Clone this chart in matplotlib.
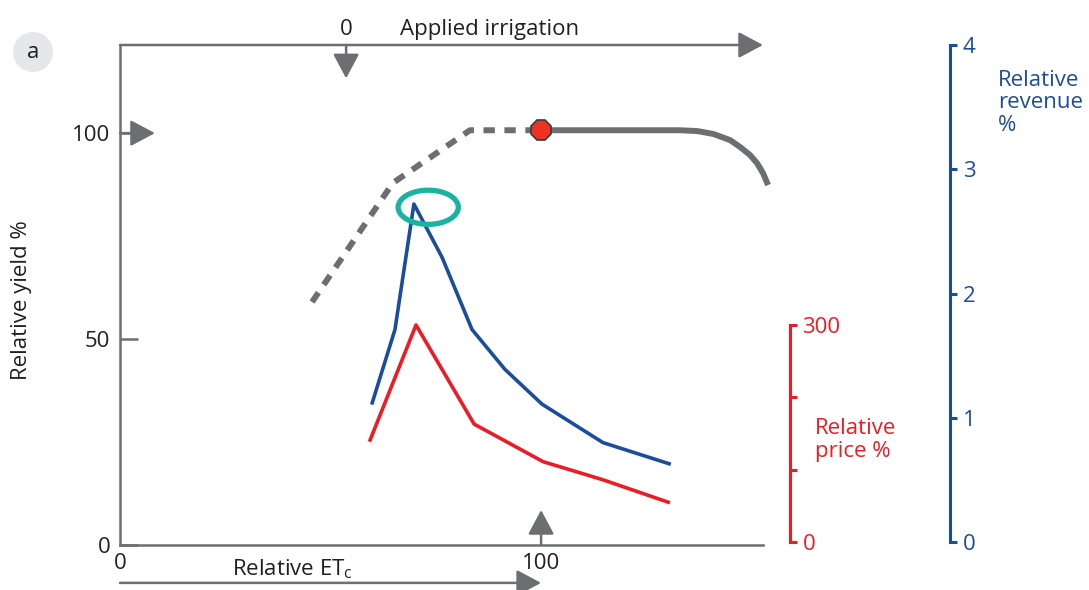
import matplotlib.pyplot as plt
from matplotlib.patches import Ellipse
from matplotlib.patches import ArrowStyle

plt.rcParams['font.family'] = ['Open Sans', 'DejaVu Sans']
plt.rcParams['mathtext.fontset'] = 'custom'
plt.rcParams['mathtext.rm'] = 'Open Sans'

## relative yield (%) vs relative ETc (%), dashed = deficit part
etc_yield_dash = [45.6, 64.8, 83.1, 100]
yield_dash = [59.0, 87.9, 100.7, 100.7]
etc_yield_solid = [100, 133, 137.1, 140.9, 144.9, 147.3, 149.6, 151.3, 152.7, 153.9]
yield_solid = [100.7, 100.7, 100.5, 99.8, 98.3, 96.6, 94.7, 92.7, 90.3, 87.4]

## relative revenue (right blue scale)
etc_revenue = [59.9, 65.3, 69.8, 76.5, 83.6, 91.4, 100.2, 114.7, 130.4]
revenue = [1.12, 1.71, 2.72, 2.29, 1.71, 1.39, 1.11, 0.80, 0.63]

## relative price (red scale)
etc_price = [59.4, 70.3, 84.1, 100.5, 114.7, 130.2]
price = [141, 300, 163, 111, 86, 55]

## optimum point and highlighted revenue peak
opt_etc, opt_yield = 100, 100.7
peak_etc, peak_yield = 73.2, 82.0

gray = "#6d6e71"
blue = "#1c4d9c"
red = "#ed1c24"
teal = "#1ab39f"
txt = "#231f20"
fs = 16

fig = plt.figure(figsize=(10.89, 5.90), dpi=100)
ax = fig.add_axes([120/1089, 45/590, 643/1089, 500/590])
ax.set_xlim(0, 152.7)
ax.set_ylim(0, 121.4)

for s in ["top", "right"]:
    ax.spines[s].set_visible(False)
for s in ["left", "bottom"]:
    ax.spines[s].set_color(gray)
    ax.spines[s].set_linewidth(1.8)

ax.set_yticks([0, 50, 100])
ax.set_yticklabels(["0", "50", "100"])
ax.tick_params(axis="y", direction="in", length=13, width=1.8, color=gray,
               labelsize=fs, labelcolor=txt, pad=7)
ax.set_xticks([0, 100])
ax.set_xticklabels(["0", "100"])
ax.tick_params(axis="x", length=0, labelsize=fs, labelcolor=txt, pad=6)

# yield curve
ax.plot(etc_yield_dash, yield_dash, color=gray, lw=4.3, dashes=(1.9, 1.6),
        solid_capstyle="butt", dash_capstyle="butt")
ax.plot(etc_yield_solid, yield_solid, color=gray, lw=4.3, clip_on=False,
        solid_capstyle="butt", solid_joinstyle="round")
ax.plot([opt_etc], [opt_yield], marker="8", ms=15, mfc="#ee3124", mec="#3a3a3a",
        mew=1.2, zorder=5)

# arrows
arrow = ArrowStyle("-|>", head_length=0.75, head_width=0.4)
def arr(x0, y0, x1, y1):
    ax.annotate("", xy=(x1, y1), xytext=(x0, y0), annotation_clip=False,
                arrowprops=dict(arrowstyle=arrow, color=gray, lw=1.8,
                                mutation_scale=20, shrinkA=0, shrinkB=0))

arr(0, 121.4, 152.7, 121.4)
arr(53.7, 121.4, 53.7, 113.3)
arr(0, 100, 8.3, 100)
arr(100, 0, 100, 8.5)
arr(0, -9.2, 100, -9.2)

ax.text(53.7, 123.8, "0", ha="center", va="baseline", fontsize=fs, color=txt)
ax.text(66.5, 123.8, "Applied irrigation", ha="left", va="baseline",
        fontsize=fs, color=txt)
ax.text(26.6, -7.3, "Relative ET$_\\mathrm{c}$", ha="left", va="baseline",
        fontsize=fs, color=txt)

# price axis
axp = ax.twinx()
axp.set_ylim(-4.15, 687.1)
for s in ["top", "left", "bottom"]:
    axp.spines[s].set_visible(False)
axp.spines["right"].set_position(("axes", 1.042))
axp.spines["right"].set_bounds(0, 300)
axp.spines["right"].set_color(red)
axp.spines["right"].set_linewidth(2.2)
axp.set_yticks([0, 100, 200, 300])
axp.set_yticklabels(["0", "", "", "300"])
axp.tick_params(axis="y", direction="out", length=5, width=2.2, color=red,
                labelsize=fs, labelcolor=red, pad=4)
axp.plot(etc_price, price, color=red, lw=2.6)

# revenue axis
axr = ax.twinx()
axr.set_ylim(-0.024, 3.976)
for s in ["top", "left", "bottom"]:
    axr.spines[s].set_visible(False)
axr.spines["right"].set_position(("axes", 1.291))
axr.spines["right"].set_bounds(0, 4)
axr.spines["right"].set_color(blue)
axr.spines["right"].set_linewidth(2.2)
axr.set_yticks([0, 1, 2, 3, 4])
axr.tick_params(axis="y", direction="out", length=5, width=2.2, color=blue,
                labelsize=fs, labelcolor=blue, pad=4)
axr.plot(etc_revenue, revenue, color=blue, lw=2.6)

axr.add_patch(Ellipse((peak_etc, peak_yield), 14.3, 8.3, transform=ax.transData,
                      fill=False, ec=teal, lw=3.8, zorder=6))

fig.text(22/1089, 1 - 300/590, "Relative yield %", rotation=90, ha="center",
         va="center", fontsize=fs, color=txt)
fig.text(815/1089, 1 - 440/590, "Relative\nprice %", ha="left", va="center",
         fontsize=fs, color=red, linespacing=1.15)
fig.text(998/1089, 1 - 103/590, "Relative\nrevenue\n%", ha="left", va="center",
         fontsize=fs, color=blue, linespacing=1.1)

fig.patches.append(Ellipse((33/1089, 1 - 52/590), 40/1089, 40/590,
                           transform=fig.transFigure, fc="#e6e7e8", ec="none"))
fig.text(33/1089, 1 - 53/590, "a", ha="center", va="center", fontsize=fs, color=txt)

fig.savefig("out.png", dpi=100)
